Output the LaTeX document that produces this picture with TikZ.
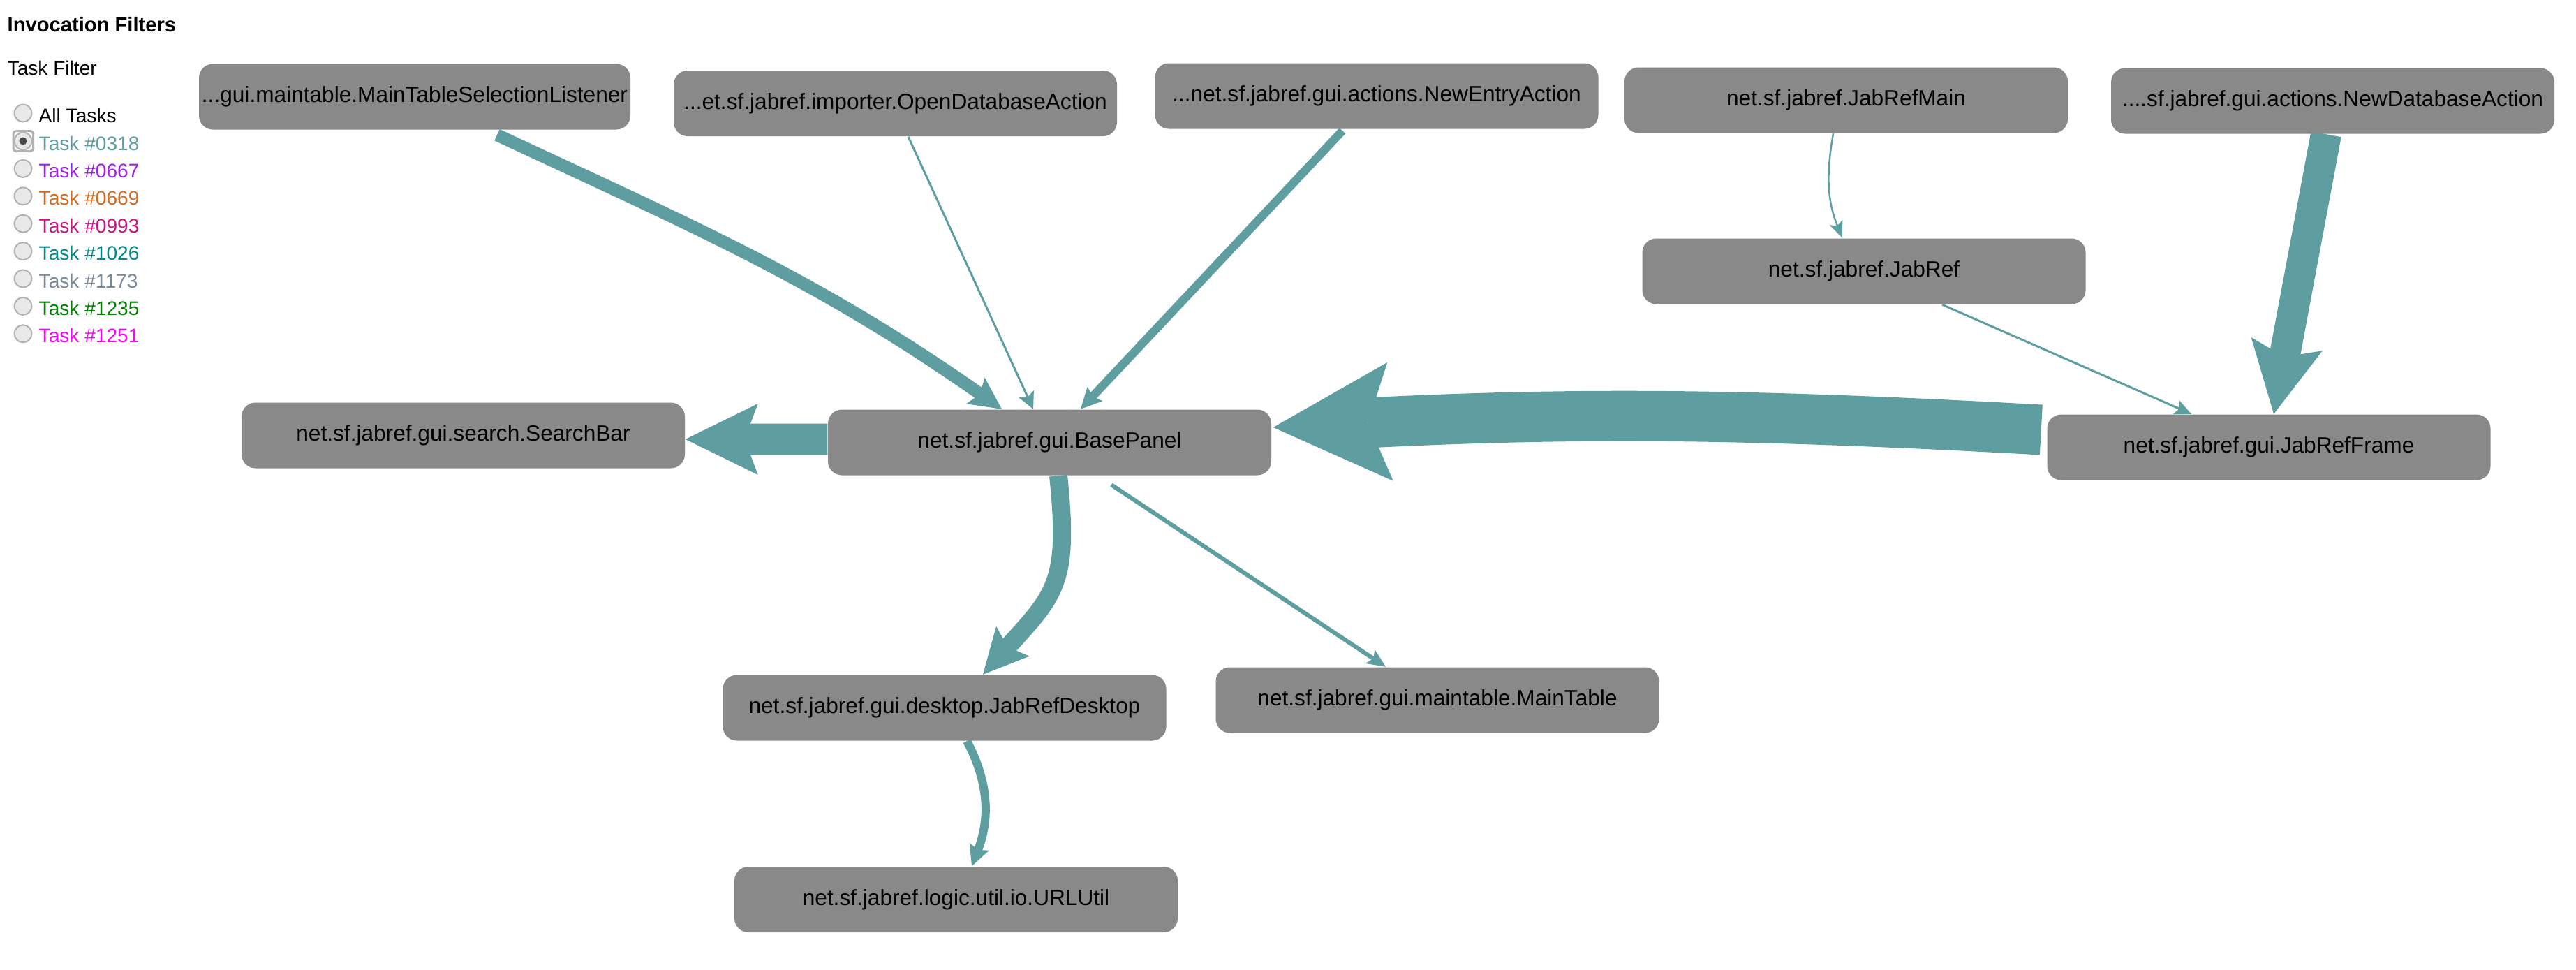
\documentclass[tikz,border=0pt]{standalone}
\usepackage{fontspec}
\setmainfont{Liberation Sans}
\usetikzlibrary{arrows.meta,backgrounds}
\definecolor{flowc}{HTML}{5F9EA0}
\definecolor{clsgray}{HTML}{898989}
\definecolor{c0318}{HTML}{5F9EA0}
\definecolor{c0667}{HTML}{A020F0}
\definecolor{c0669}{HTML}{D2691E}
\definecolor{c0993}{HTML}{C71585}
\definecolor{c1026}{HTML}{008B8B}
\definecolor{c1173}{HTML}{778899}
\definecolor{c1235}{HTML}{008000}
\definecolor{c1251}{HTML}{FF00FF}

\begin{document}
\begin{tikzpicture}[font=\fontsize{9}{11}\selectfont]
\useasboundingbox (0,0) rectangle (36.9,-13.88);
\tikzstyle{cls}=[fill=clsgray,rounded corners=0.2cm,minimum width=6.35cm,minimum height=0.94cm,inner sep=0pt]
\tikzstyle{radio}=[circle,draw=gray!60,fill=gray!18,line width=0.02cm,minimum size=0.25cm,inner sep=0pt]
\tikzstyle{lbl}=[font=\fontsize{8}{10}\selectfont,anchor=base west,inner sep=0pt]
\tikzset{flow/.style n args={4}{draw=flowc,line width=#1,-{Stealth[length=#2,width=#3,inset=#4,line width=0pt]}}}
\node[lbl,font=\fontsize{8.3}{10}\selectfont\bfseries] (hdr) at (0.10,-0.45) {Invocation Filters};
\node[lbl] (tf) at (0.10,-1.07) {Task Filter};
\node[radio] (r0) at (0.33,-1.62) {};
\node[lbl] (t0) at (0.55,-1.75) {All Tasks};
\foreach \n [count=\k] in {0318,0667,0669,0993,1026,1173,1235,1251} {
  \node[radio] (r\k) at (0.33,{-2.02-0.394*(\k-1)}) {};
  \node[lbl,text=c\n] (t\k) at (0.55,{-2.15-0.394*(\k-1)}) {Task \#\n};
}
\draw[gray!60,line width=0.03cm,rounded corners=0.04cm] (0.19,-1.875) rectangle (0.475,-2.165);
\fill[gray!55!black] (r1) circle (0.055);
\node[cls,minimum width=6.18cm] (lsl) at (5.94,-1.385) {...gui.maintable.MainTableSelectionListener};
\node[cls] (odb) at (12.825,-1.48) {...et.sf.jabref.importer.OpenDatabaseAction};
\node[cls] (nea) at (19.72,-1.375) {...net.sf.jabref.gui.actions.NewEntryAction};
\node[cls] (jrm) at (26.445,-1.435) {net.sf.jabref.JabRefMain};
\node[cls] (nda) at (33.415,-1.445) {....sf.jabref.gui.actions.NewDatabaseAction};
\node[cls] (jr) at (26.70,-3.885) {net.sf.jabref.JabRef};
\node[cls] (jrf) at (32.50,-6.405) {net.sf.jabref.gui.JabRefFrame};
\node[cls] (bp) at (15.035,-6.335) {net.sf.jabref.gui.BasePanel};
\node[cls] (sb) at (6.635,-6.235) {net.sf.jabref.gui.search.SearchBar};
\node[cls] (jrd) at (13.53,-10.135) {net.sf.jabref.gui.desktop.JabRefDesktop};
\node[cls] (mt) at (20.59,-10.025) {net.sf.jabref.gui.maintable.MainTable};
\node[cls] (url) at (13.695,-12.88) {net.sf.jabref.logic.util.io.URLUtil};
\begin{scope}[on background layer]
\draw[flow={0.18cm}{0.46cm}{0.46cm}{0.08cm}] ([shift={(1.18,-0.07)}]lsl.south) to[out=-25,in=145] ([xshift=-0.685cm]bp.north);
\draw[flow={0.03cm}{0.24cm}{0.24cm}{0.05cm}] ([xshift=0.185cm]odb.south) -- ([xshift=-0.235cm]bp.north);
\draw[flow={0.12cm}{0.30cm}{0.30cm}{0.05cm}] ([shift={(-0.49,-0.02)}]nea.south) -- ([xshift=0.445cm]bp.north);
\draw[flow={0.025cm}{0.24cm}{0.20cm}{0.05cm}] ([xshift=-0.185cm]jrm.south) to[out=-100,in=112] ([xshift=-0.31cm]jr.north);
\draw[flow={0.44cm}{1.02cm}{1.04cm}{0.19cm}] ([xshift=-0.095cm]nda.south) -- ([xshift=0.07cm]jrf.north);
\draw[flow={0.03cm}{0.24cm}{0.22cm}{0.05cm}] ([xshift=1.12cm]jr.south) -- ([xshift=-1.11cm]jrf.north);
\draw[flow={0.72cm}{1.68cm}{1.70cm}{0.32cm}] ([shift={(-0.08,0.25)}]jrf.west) to[bend right=3] ([shift={(0.02,0.215)}]bp.east);
\draw[flow={0.45cm}{1.04cm}{1.02cm}{0.19cm}] ([yshift=0.045cm]bp.west) -- ([yshift=-0.055cm]sb.east);
\draw[flow={0.26cm}{0.64cm}{0.64cm}{0.11cm}] ([xshift=0.125cm]bp.south) to[out=-84,in=48,looseness=1.3] ([xshift=0.55cm]jrd.north);
\draw[flow={0.06cm}{0.27cm}{0.24cm}{0.06cm}] ([shift={(0.885,-0.13)}]bp.south) -- ([xshift=-0.74cm]mt.north);
\draw[flow={0.12cm}{0.30cm}{0.30cm}{0.05cm}] ([xshift=0.32cm]jrd.south) to[out=-62,in=69] ([xshift=0.225cm]url.north);
\end{scope}
\end{tikzpicture}
\end{document}
